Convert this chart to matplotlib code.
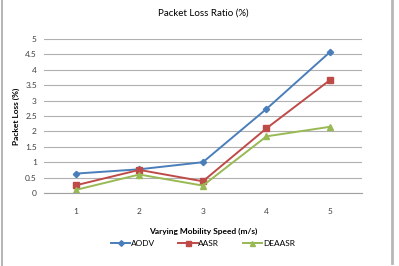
import matplotlib
matplotlib.use("Agg")
import matplotlib.pyplot as plt
from matplotlib.lines import Line2D

plt.rcParams['font.family'] = ['Lato', 'DejaVu Sans']

speeds = ["1", "2", "3", "4", "5"]
aodv = [0.63, 0.77, 1.0, 2.73, 4.58]
aasr = [0.25, 0.75, 0.38, 2.1, 3.67]
deaasr = [0.1, 0.6, 0.24, 1.84, 2.15]
yticks = [0, 0.5, 1, 1.5, 2, 2.5, 3, 3.5, 4, 4.5, 5]
ytick_labels = ["0", "0.5", "1", "1.5", "2", "2.5", "3", "3.5", "4", "4.5", "5"]

fig = plt.figure(figsize=(3.99, 2.66), dpi=100)
ax = fig.add_axes([0.110, 0.2744, 0.797, 0.579])

x = list(range(1, len(speeds) + 1))
ax.plot(x, aodv, color="#4A7EBB", marker="D", markersize=3.2, lw=1.4, label="AODV")
ax.plot(x, aasr, color="#BE4B48", marker="s", markersize=4, lw=1.4, label="AASR")
ax.plot(x, deaasr, color="#98B954", marker="^", markersize=4, lw=1.4, label="DEAASR")

ax.set_xlim(0.5, 5.5)
ax.set_ylim(0, 5)
ax.set_xticks(x)
ax.set_xticklabels(speeds)
ax.set_yticks(yticks)
ax.set_yticklabels(ytick_labels)
ax.yaxis.grid(True, color="#B0B0B0", lw=0.8)
ax.set_axisbelow(True)
for s in ["left", "right", "top"]:
    ax.spines[s].set_visible(False)
ax.spines["bottom"].set_color("#A0A0A0")
ax.tick_params(axis="both", length=0, labelsize=6, labelcolor="#404040")
ax.tick_params(axis="x", pad=11)
ax.tick_params(axis="y", pad=5)

ax.set_title("Packet Loss Ratio (%)", fontsize=7, pad=17)
ax.set_ylabel("Packet Loss (%)", fontsize=6, fontweight="bold")
ax.yaxis.set_label_coords(-0.075, 0.5)
ax.set_xlabel("Varying Mobility Speed (m/s)", fontsize=6, fontweight="bold", labelpad=9)

ax.legend(loc="upper center", bbox_to_anchor=(0.5, -0.255), ncol=3, frameon=False,
          fontsize=6, handlelength=2.3, columnspacing=2.8, handletextpad=0.1,
          markerscale=0.9)

fig.add_artist(Line2D([0.004, 0.004], [0.0, 1.0], color="#A8A8A8", lw=1.2, transform=fig.transFigure))
fig.add_artist(Line2D([0.982, 0.982], [0.01, 1.0], color="#B8B8B8", lw=2, transform=fig.transFigure))

fig.savefig("out.png", dpi=100)
